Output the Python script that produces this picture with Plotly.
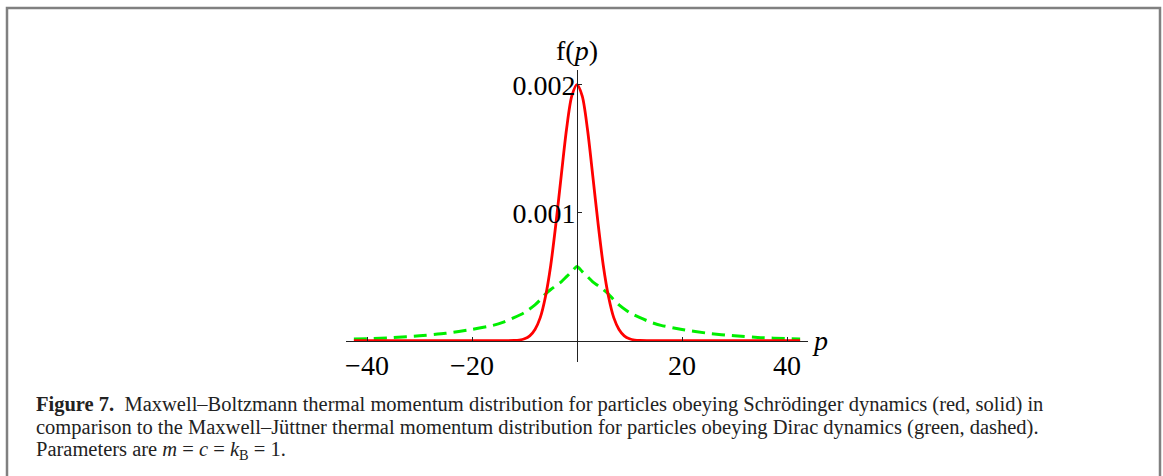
import plotly.graph_objects as go

W, H = 1163, 476

# ---- data (f in units of 1e-3) ----
p_red = [-42.5, -30, -20, -14, -12, -11, -10, -9, -8, -7, -6, -5, -4, -3, -2, -1, 0,
         1, 2, 3, 4, 5, 6, 7, 8, 9, 10, 11, 12, 14, 20, 30, 42.5]
f_red = [0.0, 0.0, 0.0, 0.0, 0.0017, 0.005, 0.015, 0.038, 0.088, 0.18, 0.345, 0.59, 0.92, 1.29, 1.65, 1.91, 2.00,
         1.91, 1.65, 1.29, 0.92, 0.59, 0.345, 0.18, 0.088, 0.038, 0.015, 0.005, 0.0017, 0.0, 0.0, 0.0, 0.0]

p_green = [-42.5, -40, -35, -30, -25, -20, -16, -14, -12, -10, -8, -7, -6, -5, -4, -3, -2, -1, 0,
           1, 2, 3, 4, 5, 6, 7, 8, 10, 12, 14, 16, 20, 25, 30, 35, 40, 42.5]
f_green = [0.013, 0.016, 0.024, 0.038, 0.058, 0.088, 0.12, 0.145, 0.18, 0.22, 0.28, 0.32, 0.365, 0.40, 0.43, 0.46, 0.50, 0.54, 0.58,
           0.54, 0.50, 0.46, 0.43, 0.40, 0.365, 0.32, 0.28, 0.22, 0.18, 0.145, 0.12, 0.088, 0.058, 0.038, 0.024, 0.016, 0.013]

x_ticks = [-40, -20, 20, 40]
y_ticks = [0.001, 0.002]
y_tick_text = ["0.001", "0.002"]

caption_lines = [
    "<b>Figure 7.</b>\u00a0\u00a0Maxwell–Boltzmann thermal momentum distribution for particles obeying Schrödinger dynamics (red, solid) in",
    "comparison to the Maxwell–Jüttner thermal momentum distribution for particles obeying Dirac dynamics (green, dashed).",
    "Parameters are <i>m</i> = <i>c</i> = <i>k</i><sub>B</sub> = 1.",
]

def px(x):
    return x / W

def py(y):
    return 1 - y / H

fig = go.Figure()
fig.add_trace(go.Scatter(x=p_green, y=[v * 1e-3 for v in f_green], mode="lines",
                         line=dict(color="#00ee00", width=3, dash="13px,7px", shape="spline", smoothing=0.6),
                         cliponaxis=False, showlegend=False))
fig.add_trace(go.Scatter(x=p_red, y=[v * 1e-3 for v in f_red], mode="lines",
                         line=dict(color="#ff0000", width=2.8, shape="spline", smoothing=0.8),
                         cliponaxis=False, showlegend=False))

zero_py = 340.7
scale = 128000.0  # px per unit f
top_px, bot_px = 70, 362
ymax = (zero_py - top_px) / scale
ymin = -(bot_px - zero_py) / scale

axis_font = dict(family="Liberation Serif, Times New Roman, serif", size=28, color="black")

fig.update_layout(
    width=W, height=H, margin=dict(l=0, r=0, t=0, b=0),
    paper_bgcolor="white", plot_bgcolor="rgba(0,0,0,0)",
    xaxis=dict(domain=[px(346), px(808)], range=[-44, 44], anchor="free", position=py(zero_py),
               showline=True, linecolor="#222222", linewidth=1, showgrid=False, zeroline=False,
               tickvals=x_ticks, ticks="inside", ticklen=4, tickcolor="#222222",
               tickfont=axis_font),
    yaxis=dict(domain=[py(bot_px), py(top_px)], range=[ymin, ymax], anchor="free", position=px(577),
               showline=True, linecolor="#222222", linewidth=1, showgrid=False, zeroline=False,
               tickvals=y_ticks, ticktext=y_tick_text, ticks="inside", ticklen=4, tickcolor="#222222",
               tickfont=axis_font, ticklabelstandoff=-4),
)

fig.add_annotation(x=px(577), y=py(50.7), xref="paper", yref="paper", text="f(<i>p</i>)",
                   showarrow=False, font=axis_font, xanchor="center", yanchor="middle")
fig.add_annotation(x=px(810), y=py(340), xref="paper", yref="paper", text="<i>p</i>",
                   showarrow=False, font=axis_font, xanchor="left", yanchor="middle")

cap_font = dict(family="Liberation Serif, Times New Roman, serif", size=20.5, color="#222222")
for i, (line, yc) in enumerate(zip(caption_lines, [404, 427, 450])):
    fig.add_annotation(x=px(35), y=py(yc), xref="paper", yref="paper", text=line,
                       showarrow=False, font=cap_font, xanchor="left", yanchor="middle", align="left",
                       borderpad=0)

fig.add_shape(type="rect", xref="paper", yref="paper", x0=px(7), x1=px(1160), y0=-0.2, y1=py(8),
              line=dict(color="#808080", width=2.5), fillcolor="rgba(0,0,0,0)")

fig.write_html("out.html")
